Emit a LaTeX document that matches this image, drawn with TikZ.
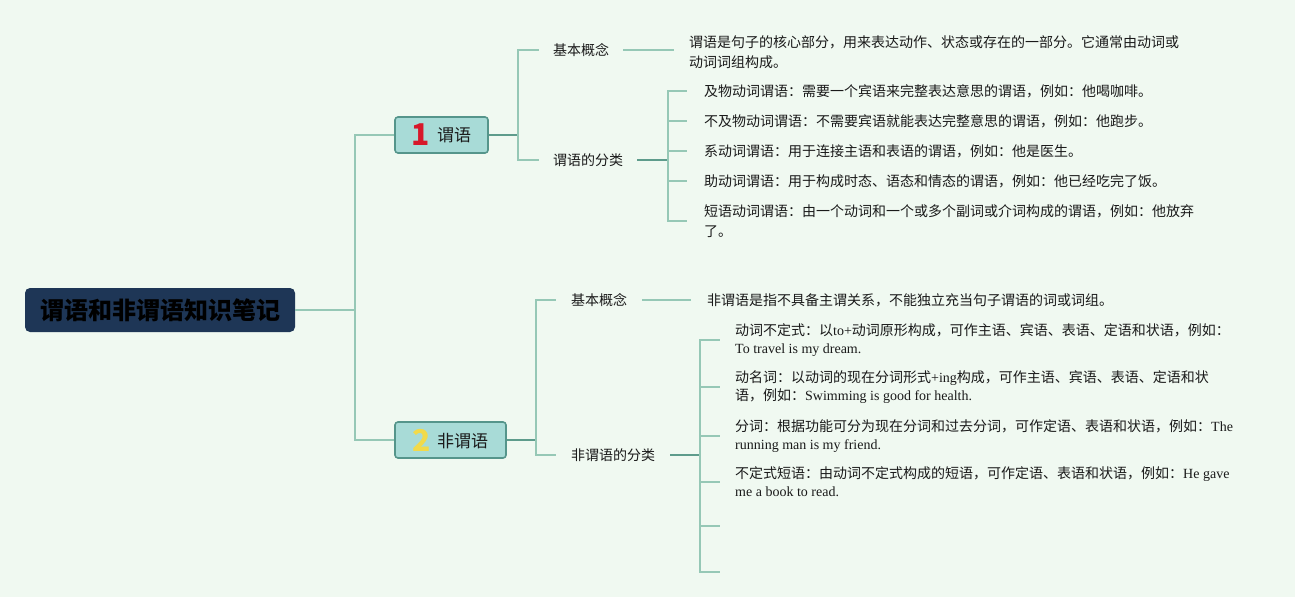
\documentclass[tikz,border=0pt]{standalone}
\usepackage{fontspec}
\setmainfont{Noto Sans CJK SC}
\newfontfamily\en{Liberation Serif}
\definecolor{bgc}{HTML}{F0F9F1}
\definecolor{ltline}{HTML}{96C8B6}
\definecolor{dkline}{HTML}{5E9C8C}
\definecolor{topicfill}{HTML}{A8DBD7}
\definecolor{topicborder}{HTML}{55958B}
\definecolor{rootfill}{HTML}{1E3656}
\definecolor{numred}{HTML}{D7182A}
\definecolor{numyellow}{HTML}{F2DA4A}
\definecolor{textc}{HTML}{1A1A1A}
\begin{document}
\begin{tikzpicture}[x=1pt,y=-1pt,
  lt/.style={draw=ltline,line width=1.4pt},
  dk/.style={draw=dkline,line width=1.8pt},
  rootbox/.style={fill=rootfill,rounded corners=5pt,minimum width=270pt,minimum height=44pt,inner sep=0pt,
    font=\fontsize{24}{28}\selectfont\bfseries,text=black},
  topicbox/.style={fill=topicfill,draw=topicborder,line width=1.6pt,rounded corners=3pt,minimum height=36pt,inner sep=0pt,
    font=\fontsize{17}{20}\selectfont,text=textc},
  leaf/.style={inner ysep=2pt,align=left,font=\fontsize{14}{20}\selectfont,text=textc},
  leafb/.style={inner ysep=2pt,align=left,font=\fontsize{14}{18}\selectfont,text=textc}]
\fill[bgc] (0,0) rectangle (1295,597);
\useasboundingbox (0,0) rectangle (1295,597);

% root and main topics
\node[rootbox] (root) at (160,310) {谓语和非谓语知识笔记};
\node[topicbox,minimum width=93pt] (n1) at (441.5,135)
  {\raisebox{-4pt}{\fontsize{30}{30}\selectfont\bfseries\color{numred}1}\hspace{7pt}谓语};
\node[topicbox,minimum width=111pt] (n2) at (450.5,440)
  {\raisebox{-4pt}{\fontsize{30}{30}\selectfont\bfseries\color{numyellow}2}\hspace{6pt}非谓语};

\coordinate (t0) at (355,310);
\draw[lt] (root.east) -- (t0);
\draw[lt] (t0) |- (n1.west);
\draw[lt] (t0) |- (n2.west);

% ---- branch 1 ----
\node[leaf,inner xsep=14pt,anchor=west] (b1) at (539,50) {基本概念};
\node[leaf,inner xsep=14pt,anchor=west] (b2) at (539,160) {谓语的分类};
\node[leaf,inner xsep=15pt,anchor=west] (p1) at (674,52)
  {谓语是句子的核心部分，用来表达动作、状态或存在的一部分。它通常由动词或\\动词词组构成。};

\coordinate (j1) at (518,135);
\draw[dk] (n1.east) -- (j1);
\draw[lt] (j1) |- (b1.west);
\draw[lt] (j1) |- (b2.west);
\draw[lt] (b1.east) -- (p1.west |- b1.east);

\node[leaf,inner xsep=17pt,anchor=west] (u1) at (687,91) {及物动词谓语：需要一个宾语来完整表达意思的谓语，例如：他喝咖啡。};
\node[leaf,inner xsep=17pt,anchor=west] (u2) at (687,121) {不及物动词谓语：不需要宾语就能表达完整意思的谓语，例如：他跑步。};
\node[leaf,inner xsep=17pt,anchor=west] (u3) at (687,151) {系动词谓语：用于连接主语和表语的谓语，例如：他是医生。};
\node[leaf,inner xsep=17pt,anchor=west] (u4) at (687,181) {助动词谓语：用于构成时态、语态和情态的谓语，例如：他已经吃完了饭。};
\node[leaf,inner xsep=17pt,anchor=west] (u5) at (687,221) {短语动词谓语：由一个动词和一个或多个副词或介词构成的谓语，例如：他放弃\\了。};

\coordinate (j2) at (668,160);
\draw[dk] (b2.east) -- (j2);
\foreach \u in {u1,u2,u3,u4,u5} \draw[lt] (j2) |- (\u.west);

% ---- branch 2 ----
\node[leaf,inner xsep=15pt,anchor=west] (b3) at (556,300) {基本概念};
\node[leaf,inner xsep=15pt,anchor=west] (b4) at (556,455) {非谓语的分类};
\node[leaf,inner xsep=16pt,anchor=west] (p2) at (691,300) {非谓语是指不具备主谓关系，不能独立充当句子谓语的词或词组。};

\coordinate (j3) at (536,440);
\draw[dk] (n2.east) -- (j3);
\draw[lt] (j3) |- (b3.west);
\draw[lt] (j3) |- (b4.west);
\draw[lt] (b3.east) -- (p2.west);

\node[leafb,inner xsep=15pt,anchor=west] (l1) at (720,340)
  {动词不定式：以{\en to+}动词原形构成，可作主语、宾语、表语、定语和状语，例如：\\{\en To travel is my dream.}};
\node[leafb,inner xsep=15pt,anchor=west] (l2) at (720,387)
  {动名词：以动词的现在分词形式{\en +ing}构成，可作主语、宾语、表语、定语和状\\语，例如：{\en Swimming is good for health.}};
\node[leafb,inner xsep=15pt,anchor=west] (l3) at (720,436)
  {分词：根据功能可分为现在分词和过去分词，可作定语、表语和状语，例如：{\en The}\\{\en running man is my friend.}};
\node[leafb,inner xsep=15pt,anchor=west] (l4) at (720,482)
  {不定式短语：由动词不定式构成的短语，可作定语、表语和状语，例如：{\en He gave}\\{\en me a book to read.}};
\coordinate (e1) at (720,526);
\coordinate (e2) at (720,572);

\coordinate (j4) at (700,455);
\draw[dk] (b4.east) -- (j4);
\foreach \u in {l1,l2,l3,l4} \draw[lt] (j4) |- (\u.west);
\draw[lt] (j4) |- (e1);
\draw[lt] (j4) |- (e2);
\end{tikzpicture}
\end{document}
